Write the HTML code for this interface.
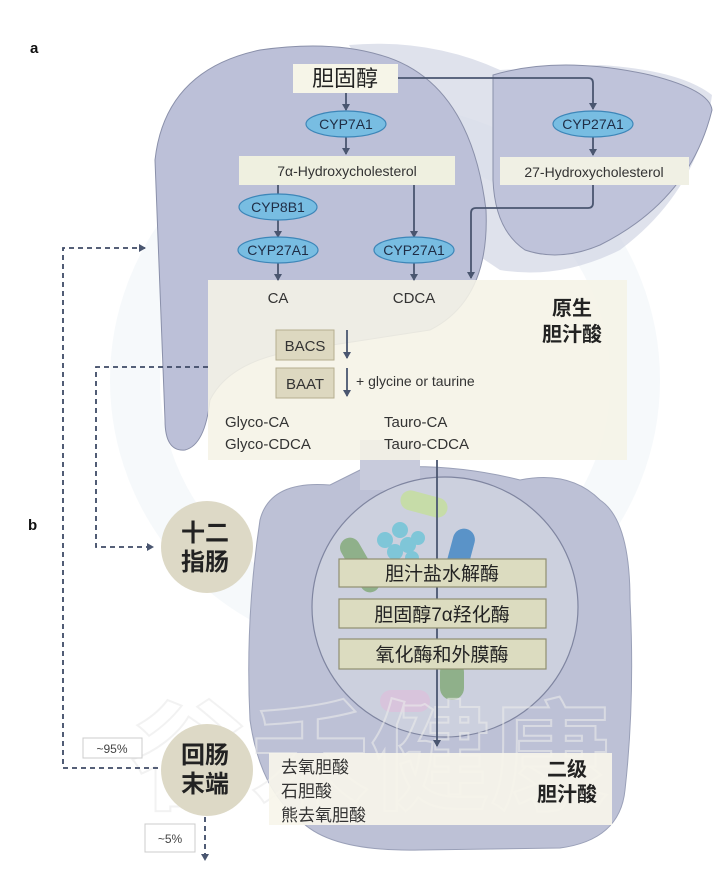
<!DOCTYPE html>
<html><head><meta charset="utf-8"><style>
html,body{margin:0;padding:0;background:#fff;}
svg{display:block;font-family:"Liberation Sans","Noto Sans CJK SC",sans-serif;}
</style></head><body>
<svg width="720" height="893" viewBox="0 0 720 893" xmlns="http://www.w3.org/2000/svg">
<defs>
<marker id="ah" markerWidth="8" markerHeight="8" refX="6" refY="4" orient="auto" markerUnits="userSpaceOnUse"><path d="M0,0 L7,4 L0,8 z" fill="#4a5670"/></marker>
</defs>
<circle cx="385" cy="380" r="250" fill="none" stroke="#f0f5f9" stroke-width="50" opacity="0.6"/>
<path d="M349,45 Q430,38 500,70 L600,65 Q680,70 712,95 Q700,190 620,250 Q560,280 500,270 L470,250 Z" fill="#d2d5e4" opacity="0.7"/>
<path d="M493,75 Q560,55 650,75 Q710,90 712,110 Q690,200 600,245 Q560,262 525,250 Q495,230 493,180 Z" fill="#bfc3da" stroke="#8a90aa" stroke-width="1"/>
<path d="M155,160 Q165,70 260,50 Q330,40 380,55 Q470,80 486,210 Q490,300 430,330 L300,350 Q230,360 210,400 Q205,445 185,450 Q165,452 165,420 Q160,300 155,160 Z" fill="#bcc0d8" stroke="#8a90aa" stroke-width="1"/>
<path d="M260,520 Q270,480 330,485 L360,470 Q440,460 520,480 Q570,470 600,500 Q630,520 630,600 Q635,700 625,790 Q620,840 560,848 L420,850 Q330,852 300,820 Q260,790 250,720 Q245,620 260,520 Z" fill="#bdc1d6" stroke="#9aa0b8" stroke-width="1"/>
<path d="M360,440 L360,490 L420,490 L420,440 Z" fill="#c8cbdc"/>
<ellipse cx="445" cy="607" rx="133" ry="130" fill="#ccd0de" stroke="#7f85a0" stroke-width="1.2"/>
<rect x="400" y="494" width="48" height="20" rx="10" fill="#c6dca8" transform="rotate(15 424 504)"/>
<g fill="#7fc6d8"><circle cx="385" cy="540" r="8"/><circle cx="400" cy="530" r="8"/><circle cx="408" cy="545" r="8"/><circle cx="395" cy="552" r="8"/><circle cx="418" cy="538" r="7"/><circle cx="412" cy="558" r="7"/></g>
<rect x="448" y="528" width="22" height="60" rx="11" fill="#5a93c8" transform="rotate(15 459 558)"/>
<rect x="350" y="535" width="20" height="60" rx="10" fill="#8fb08a" transform="rotate(-30 360 565)"/>
<rect x="380" y="690" width="50" height="22" rx="11" fill="#d8c4dc"/>
<rect x="440" y="660" width="24" height="40" rx="12" fill="#8fb08a"/>
<rect x="208" y="280" width="419" height="180" fill="#f5f3e6" opacity="0.88"/>
<text x="370" y="800" font-size="120" font-weight="bold" text-anchor="middle" fill="none" stroke="#ebebeb" stroke-width="2" opacity="0.6" font-family="Noto Sans CJK SC, sans-serif">谷禾健康</text>
<rect x="269" y="753" width="343" height="72" fill="#f7f5ea" opacity="0.92"/>
<rect x="293" y="64" width="105" height="29" fill="#f6f5e8"/>
<text x="345" y="86" font-size="22" text-anchor="middle" fill="#222">胆固醇</text>
<rect x="239" y="156" width="216" height="29" fill="#eff0e0"/>
<text x="347" y="176" font-size="14" text-anchor="middle" fill="#333">7α-Hydroxycholesterol</text>
<rect x="500" y="157" width="189" height="28" fill="#f0f0e4"/>
<text x="594" y="177" font-size="14" text-anchor="middle" fill="#333">27-Hydroxycholesterol</text>
<g stroke="#4a5670" stroke-width="1.8" fill="none">
<line x1="346" y1="93" x2="346" y2="110" marker-end="url(#ah)"/>
<line x1="346" y1="137" x2="346" y2="154" marker-end="url(#ah)"/>
<path d="M398,78 L588,78 Q593,78 593,83 L593,109" marker-end="url(#ah)"/>
<line x1="593" y1="137" x2="593" y2="155" marker-end="url(#ah)"/>
<path d="M593,185 L593,203 Q593,208 588,208 L476,208 Q471,208 471,213 L471,278" marker-end="url(#ah)"/>
<line x1="278" y1="185" x2="278" y2="195"/>
<line x1="278" y1="220" x2="278" y2="237" marker-end="url(#ah)"/>
<line x1="278" y1="263" x2="278" y2="280" marker-end="url(#ah)"/>
<line x1="414" y1="185" x2="414" y2="237" marker-end="url(#ah)"/>
<line x1="414" y1="263" x2="414" y2="280" marker-end="url(#ah)"/>
<line x1="347" y1="330" x2="347" y2="358" marker-end="url(#ah)"/>
<line x1="347" y1="368" x2="347" y2="396" marker-end="url(#ah)"/>
<line x1="437" y1="460" x2="437" y2="746" marker-end="url(#ah)"/>
</g>
<g fill="#78bde2" stroke="#3d86b8" stroke-width="1.2">
<ellipse cx="346" cy="124" rx="40" ry="13"/>
<ellipse cx="593" cy="124" rx="40" ry="13"/>
<ellipse cx="278" cy="207" rx="39" ry="13"/>
<ellipse cx="278" cy="250" rx="40" ry="13"/>
<ellipse cx="414" cy="250" rx="40" ry="13"/>
</g>
<g font-size="14" text-anchor="middle" fill="#1f2d45">
<text x="346" y="129">CYP7A1</text>
<text x="593" y="129">CYP27A1</text>
<text x="278" y="212">CYP8B1</text>
<text x="278" y="255">CYP27A1</text>
<text x="414" y="255">CYP27A1</text>
</g>
<g font-size="15" fill="#333">
<text x="278" y="303" text-anchor="middle">CA</text>
<text x="414" y="303" text-anchor="middle">CDCA</text>
<text x="356" y="386" font-size="14">+ glycine or taurine</text>
<text x="225" y="427">Glyco-CA</text>
<text x="225" y="449">Glyco-CDCA</text>
<text x="384" y="427">Tauro-CA</text>
<text x="384" y="449">Tauro-CDCA</text>
</g>
<g font-size="20" font-weight="bold" text-anchor="middle" fill="#222">
<text x="572" y="315">原生</text>
<text x="572" y="341">胆汁酸</text>
<text x="567" y="776">二级</text>
<text x="567" y="801">胆汁酸</text>
</g>
<rect x="276" y="330" width="58" height="30" fill="#ddd8c0" stroke="#b5ae90"/>
<text x="305" y="351" font-size="15" text-anchor="middle" fill="#333">BACS</text>
<rect x="276" y="368" width="58" height="30" fill="#ddd8c0" stroke="#b5ae90"/>
<text x="305" y="389" font-size="15" text-anchor="middle" fill="#333">BAAT</text>
<g fill="#dcdcc0" stroke="#8f8f70" stroke-width="1.2">
<rect x="339" y="559" width="207" height="28"/>
<rect x="339" y="599" width="207" height="29"/>
<rect x="339" y="639" width="207" height="30"/>
</g>
<g font-size="19" text-anchor="middle" fill="#222">
<text x="442" y="580">胆汁盐水解酶</text>
<text x="442" y="621">胆固醇7α羟化酶</text>
<text x="442" y="661">氧化酶和外膜酶</text>
</g>
<g font-size="17" fill="#333">
<text x="281" y="773">去氧胆酸</text>
<text x="281" y="797">石胆酸</text>
<text x="281" y="821">熊去氧胆酸</text>
</g>
<circle cx="207" cy="547" r="46" fill="#ddd9c6"/>
<circle cx="207" cy="770" r="46" fill="#ddd9c6"/>
<g font-size="24" font-weight="bold" text-anchor="middle" fill="#222">
<text x="205" y="541">十二</text>
<text x="205" y="570">指肠</text>
<text x="205" y="763">回肠</text>
<text x="205" y="792">末端</text>
</g>
<g stroke="#3e4a66" stroke-width="1.8" fill="none" stroke-dasharray="5,4">
<path d="M158,768 L63,768 L63,248 L145,248" marker-end="url(#ah)"/>
<path d="M208,367 L96,367 L96,547 L153,547" marker-end="url(#ah)"/>
<path d="M205,817 L205,860" marker-end="url(#ah)"/>
</g>
<rect x="83" y="738" width="59" height="20" fill="#fff" stroke="#ccc"/>
<text x="112" y="753" font-size="12" text-anchor="middle" fill="#444">~95%</text>
<rect x="145" y="824" width="50" height="28" fill="#fff" stroke="#ccc"/>
<text x="170" y="843" font-size="12" text-anchor="middle" fill="#444">~5%</text>
<text x="30" y="53" font-size="15" font-weight="bold" fill="#111">a</text>
<text x="28" y="530" font-size="15" font-weight="bold" fill="#111">b</text>
</svg>
</body></html>
